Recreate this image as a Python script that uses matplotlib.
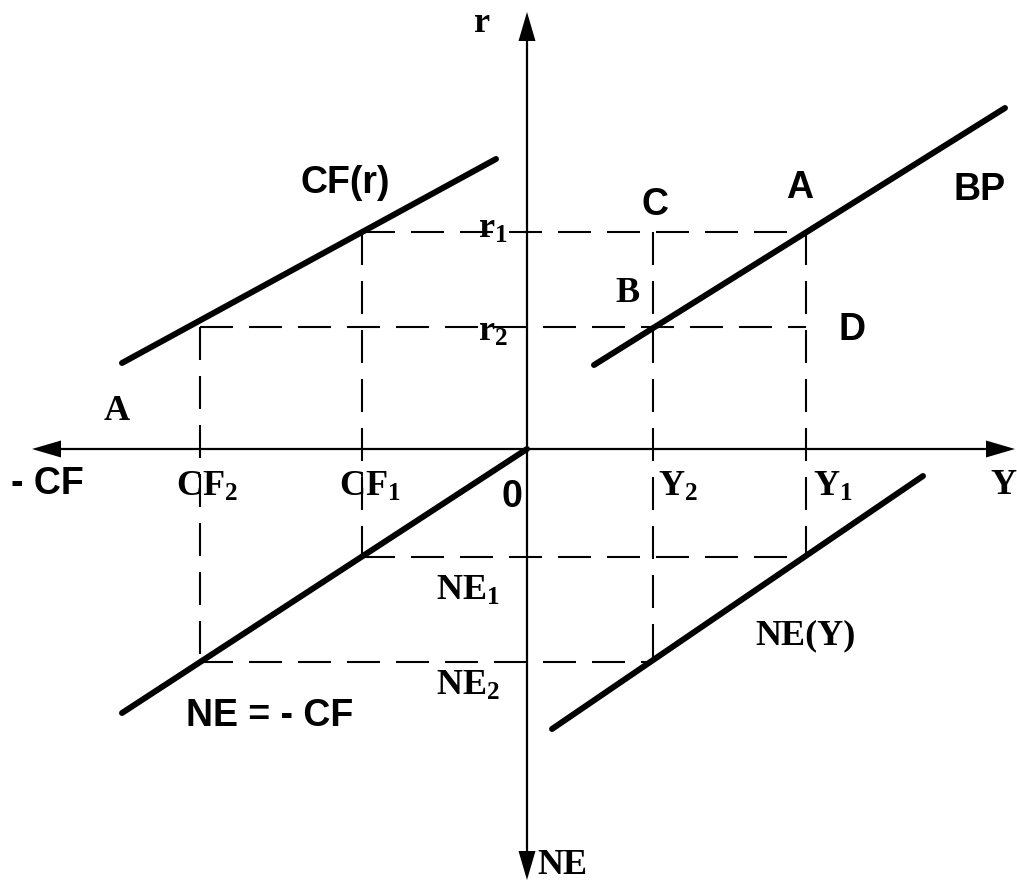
import matplotlib
matplotlib.use("Agg")
import matplotlib.pyplot as plt
from matplotlib.patches import Polygon

plt.rcParams['mathtext.fontset'] = 'custom'
plt.rcParams['mathtext.rm'] = 'Liberation Serif:bold'
plt.rcParams['mathtext.it'] = 'Liberation Serif:bold'
plt.rcParams['mathtext.bf'] = 'Liberation Serif:bold'
plt.rcParams['mathtext.default'] = 'rm'

# ---- data (diagram units, origin at axes crossing, y up) ----
r_levels = [217, 122]            # r1, r2
cf_levels = [-165, -327]         # CF1, CF2
y_levels = [279, 126]            # Y1, Y2
ne_levels = [-108, -213]         # NE1, NE2

cf_curve_x = [-405, -31]
cf_curve_y = [86, 290]
bp_curve_x = [67, 478]
bp_curve_y = [84, 341]
necf_curve_x = [-405, 0]
necf_curve_y = [-264, 0]
ney_curve_x = [25, 396]
ney_curve_y = [-280, -27]

axis_x = [-495, 488]
axis_y = [-431, 437]

fig = plt.figure(figsize=(10.17, 8.83), dpi=100)
ax = fig.add_axes([0, 0, 1, 1])
ax.set_xlim(-527, 490)
ax.set_ylim(-434, 449)
ax.axis('off')

# axes lines
ax.plot([axis_x[0] + 28, axis_x[1] - 28], [0, 0], color='black', lw=1.6, solid_capstyle='butt')
ax.plot([0, 0], [axis_y[0] + 28, axis_y[1] - 28], color='black', lw=1.6, solid_capstyle='butt')

def head(tip, direction, length=29, width=17):
    tx, ty = tip
    dx, dy = direction
    bx, by = tx - dx * length, ty - dy * length
    px, py = -dy, dx
    pts = [(tx, ty), (bx + px * width / 2, by + py * width / 2),
           (bx - px * width / 2, by - py * width / 2)]
    ax.add_patch(Polygon(pts, closed=True, color='black', lw=0))

head((axis_x[0], 0), (-1, 0))
head((axis_x[1], 0), (1, 0))
head((0, axis_y[1]), (0, 1))
head((0, axis_y[0]), (0, -1))

# dashed guide lines
lw_d = 1.5
dash = (0, (33 * 0.72 / lw_d, 16 * 0.72 / lw_d))
dkw = dict(color='black', lw=lw_d, linestyle=dash)
r1, r2 = r_levels
cf1, cf2 = cf_levels
y1, y2 = y_levels
ne1, ne2 = ne_levels
ax.plot([cf1, y1], [r1, r1], **dkw)
ax.plot([cf2, y1], [r2, r2], **dkw)
ax.plot([cf2, cf2], [r2, ne2], **dkw)
ax.plot([cf1, cf1], [r1, ne1], **dkw)
ax.plot([y2, y2], [r1, ne2], **dkw)
ax.plot([y1, y1], [r1, ne1], **dkw)
ax.plot([cf1, y1], [ne1, ne1], **dkw)
ax.plot([cf2, y2], [ne2, ne2], **dkw)

# thick curves
tkw = dict(color='black', lw=4.3, solid_capstyle='round')
ax.plot(cf_curve_x, cf_curve_y, **tkw)
ax.plot(bp_curve_x, bp_curve_y, **tkw)
ax.plot(necf_curve_x, necf_curve_y, **tkw)
ax.plot(ney_curve_x, ney_curve_y, **tkw)

def P(px, py):
    return px - 527, 449 - py

sans = dict(family='Liberation Sans', weight='bold', fontsize=27, ha='center', va='center')
serif = dict(family='Liberation Serif', weight='bold', fontsize=26, ha='center', va='center')

ax.text(*P(482, 24), 'r', **serif)
ax.text(*P(345, 183), 'CF(r)', **sans)
ax.text(*P(117, 412), 'A', **serif)
ax.text(*P(47, 484), '- CF', **sans)
ax.text(*P(207, 487), r'$CF_2$', **serif)
ax.text(*P(370, 487), r'$CF_1$', **serif)
ax.text(*P(512, 497), '0', **sans)
ax.text(*P(678, 487), r'$Y_2$', **serif)
ax.text(*P(833, 487), r'$Y_1$', **serif)
ax.text(*P(1003, 485), 'Y', **serif)
ax.text(*P(655, 205), 'C', **sans)
ax.text(*P(800, 188), 'A', **sans)
ax.text(*P(980, 190), 'BP', **sans)
ax.text(*P(493, 229), r'$r_1$', **serif)
ax.text(*P(627, 293), 'B', **serif)
ax.text(*P(493, 332), r'$r_2$', **serif)
ax.text(*P(852, 330), 'D', **sans)
ax.text(*P(468, 591), r'$NE_1$', **serif)
ax.text(*P(806, 636), 'NE(Y)', **serif)
ax.text(*P(468, 686), r'$NE_2$', **serif)
ax.text(*P(270, 716), 'NE = - CF', **sans)
ax.text(*P(562, 866), 'NE', **serif)

fig.savefig('out.png', dpi=100, facecolor='white')
